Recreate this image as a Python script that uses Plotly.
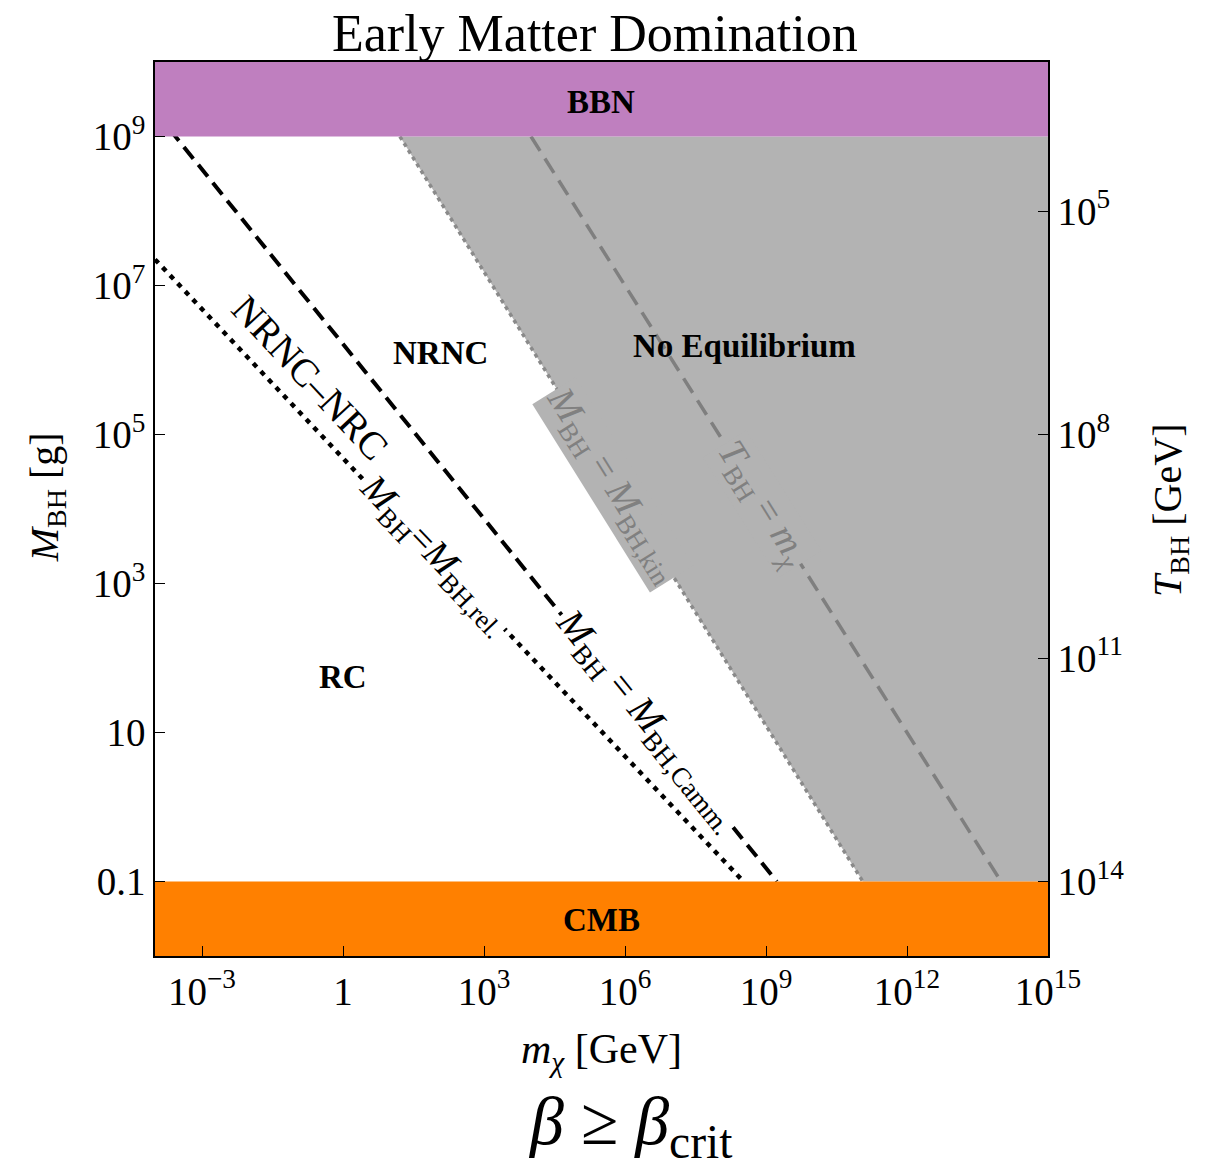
import plotly.graph_objects as go

# Axis extents (log10 units)
mchi_log_range = [-4, 15]      # m_chi [GeV]
mbh_log_range = [-2, 10]       # M_BH [g]

# Tick positions and labels
x_tickvals = [1e-3, 1, 1e3, 1e6, 1e9, 1e12, 1e15]
x_ticktext = ["10<sup>−3</sup>", "1", "10<sup>3</sup>", "10<sup>6</sup>",
              "10<sup>9</sup>", "10<sup>12</sup>", "10<sup>15</sup>"]
y_tickvals = [1e9, 1e7, 1e5, 1e3, 10, 0.1]
y_ticktext = ["10<sup>9</sup>", "10<sup>7</sup>", "10<sup>5</sup>",
              "10<sup>3</sup>", "10", "0.1"]
t_tickvals = [1e5, 1e8, 1e11, 1e14]
t_ticktext = ["10<sup>5</sup>", "10<sup>8</sup>", "10<sup>11</sup>", "10<sup>14</sup>"]

# T_BH [GeV] * M_BH [g] conversion constant
T_times_M = 1e13

# Boundary curves (m_chi [GeV], M_BH [g])
camm_m = [1e-4, 10**9.23]
camm_M = [10**9.34, 0.1]
rel_m = [1e-4, 10**8.52]
rel_M = [10**7.35, 0.1]
kin_m = [10**1.21, 10**11.06]
kin_M = [1e9, 0.1]
tbh_m = [1e4, 1e14]
tbh_M = [1e9, 0.1]

# Constraint bands in M_BH
bbn_M = [1e9, 1e10]
cmb_M = [1e-2, 1e-1]

GRAY = "#B3B3B3"
SERIF = "Liberation Serif"

xmin, xmax = 10**mchi_log_range[0], 10**mchi_log_range[1]

fig = go.Figure()

# No-equilibrium region to the right of the kinetic boundary
fig.add_trace(go.Scatter(
    x=[kin_m[0], xmax, xmax, kin_m[1], kin_m[0]],
    y=[kin_M[0], kin_M[0], kin_M[1], kin_M[1], kin_M[0]],
    fill="toself", fillcolor=GRAY, mode="none", hoverinfo="skip"))

fig.add_trace(go.Scatter(x=kin_m, y=kin_M, mode="lines",
                         line=dict(color="#8A8A8A", width=3.5, dash="4px,4px"),
                         hoverinfo="skip"))
fig.add_trace(go.Scatter(x=tbh_m, y=tbh_M, mode="lines",
                         line=dict(color="#7F7F7F", width=3.5, dash="17px,9px"),
                         hoverinfo="skip"))
fig.add_trace(go.Scatter(x=camm_m, y=camm_M, mode="lines",
                         line=dict(color="black", width=4, dash="15px,8px"),
                         hoverinfo="skip"))
fig.add_trace(go.Scatter(x=rel_m, y=rel_M, mode="lines",
                         line=dict(color="black", width=4.5, dash="5px,6px"),
                         hoverinfo="skip"))

# BBN and CMB bands
fig.add_trace(go.Scatter(x=[xmin, xmax, xmax, xmin, xmin],
                         y=[bbn_M[0], bbn_M[0], bbn_M[1], bbn_M[1], bbn_M[0]],
                         fill="toself", fillcolor="#BF7FBF", mode="none", hoverinfo="skip"))
fig.add_trace(go.Scatter(x=[xmin, xmax, xmax, xmin, xmin],
                         y=[cmb_M[0], cmb_M[0], cmb_M[1], cmb_M[1], cmb_M[0]],
                         fill="toself", fillcolor="#FF8000", mode="none", hoverinfo="skip"))

# Anchor trace for the T_BH axis
fig.add_trace(go.Scatter(x=[1.0], y=[T_times_M / 1e5], yaxis="y2", mode="markers",
                         marker=dict(opacity=0), hoverinfo="skip"))

axis_common = dict(type="log", showgrid=False, zeroline=False, showline=True,
                   linecolor="black", linewidth=1.5, ticks="inside", ticklen=10,
                   tickwidth=1.3, tickcolor="black",
                   tickfont=dict(family=SERIF, size=39, color="black"))

fig.update_layout(
    width=1217, height=1168, showlegend=False,
    paper_bgcolor="white", plot_bgcolor="white",
    margin=dict(l=155, r=169, t=62, b=212),
    xaxis=dict(range=mchi_log_range, tickvals=x_tickvals, ticktext=x_ticktext,
               mirror=True, **axis_common),
    yaxis=dict(range=mbh_log_range, tickvals=y_tickvals, ticktext=y_ticktext,
               **axis_common),
    # T_BH = 1e13 GeV / (M_BH / g), so the right axis runs opposite to M_BH
    yaxis2=dict(overlaying="y", side="right",
                range=[13 - mbh_log_range[0], 13 - mbh_log_range[1]],
                tickvals=t_tickvals, ticktext=t_ticktext, **axis_common),
)


def ann(text, x, y, size, angle=0, bold=False, color="black", bg=None,
        xref="x", yref="y"):
    if bold:
        text = "<b>" + text + "</b>"
    d = dict(text=text, x=x, y=y, xref=xref, yref=yref, showarrow=False,
             textangle=angle, font=dict(family=SERIF, size=size, color=color),
             xanchor="center", yanchor="middle")
    if bg:
        d["bgcolor"] = bg
        d["borderpad"] = 1
    fig.add_annotation(**d)


# Region labels
ann("BBN", 5.49, 9.46, 33, bold=True)
ann("CMB", 5.49, -1.52, 33, bold=True)
ann("NRNC", 2.08, 6.09, 33, bold=True)
ann("No Equilibrium", 8.55, 6.19, 33, bold=True)
ann("RC", 0.0, 1.75, 33, bold=True)

# Curve labels along the lines
ann("NRNC–NRC", -0.70, 5.76, 39, angle=47)
ann("<i>M</i><sub>BH</sub>=<i>M</i><sub>BH,rel.</sub>", 1.95, 3.38, 38, angle=46.5, bg="white")
ann("<i>M</i><sub>BH</sub> = <i>M</i><sub>BH,Camm.</sub>", 6.49, 1.16, 39, angle=51, bg="white")
ann("<i>M</i><sub>BH</sub> = <i>M</i><sub>BH,kin</sub>", 5.74, 4.32, 38, angle=58,
    color="#808080", bg=GRAY)
ann("<i>T</i><sub>BH</sub> = <i>m<sub>χ</sub></i>", 8.92, 4.07, 38, angle=58,
    color="#808080", bg=GRAY)

# Titles and axis labels
ann("Early Matter Domination", 0.4927, 1.0324, 52, xref="paper", yref="paper")
ann("<i>m</i><sub><i>χ</i></sub> [GeV]", 0.5, -0.107, 42, xref="paper", yref="paper")
ann("<i>β</i> ≥ <i>β</i><sub>crit</sub>", 0.532, -0.190, 68, xref="paper", yref="paper")
ann("<i>M</i><sub>BH</sub> [g]", -0.121, 0.513, 40, angle=-90, xref="paper", yref="paper")
ann("<i>T</i><sub>BH</sub> [GeV]", 1.1366, 0.499, 40, angle=-90, xref="paper", yref="paper")

fig.write_html("out.html")
